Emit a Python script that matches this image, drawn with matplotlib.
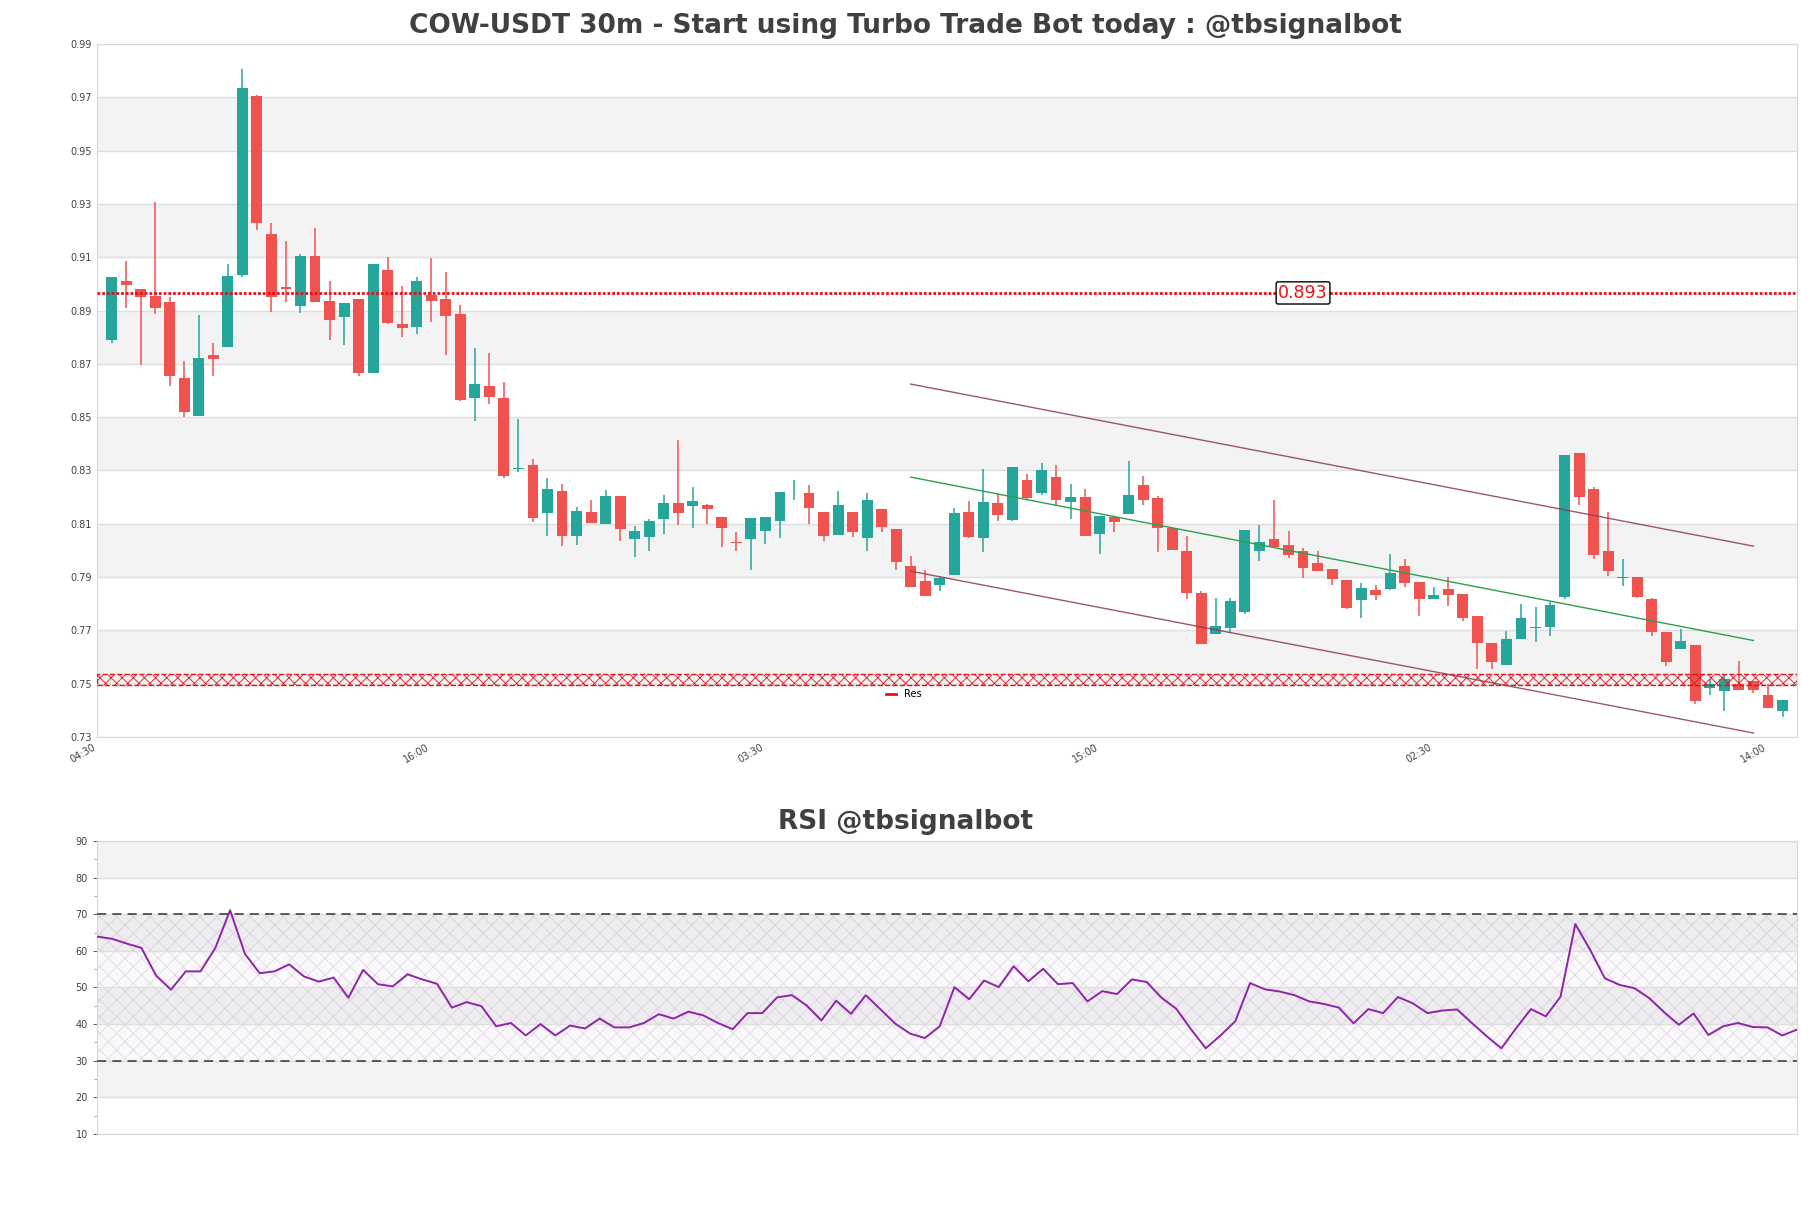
import numpy as np
import matplotlib
matplotlib.use("Agg")
import matplotlib.pyplot as plt

plt.rcParams["hatch.linewidth"] = 0.6

# candles (30m)
opens = [0.879, 0.9011, 0.8981, 0.8956, 0.8933, 0.8648, 0.8506, 0.8734, 0.8765, 0.9034,
         0.9705, 0.9187, 0.8989, 0.8917, 0.9105, 0.8936, 0.8874, 0.8944, 0.8664, 0.9052,
         0.885, 0.884, 0.8959, 0.8944, 0.8887, 0.857, 0.8616, 0.8571, 0.8304, 0.8321,
         0.8139, 0.8224, 0.8055, 0.8144, 0.8098, 0.8205, 0.8041, 0.8049, 0.8116, 0.8179,
         0.8165, 0.8171, 0.8126, 0.8031, 0.8041, 0.8071, 0.8109, 0.8229, 0.8216, 0.8145,
         0.8056, 0.8145, 0.8045, 0.8156, 0.8081, 0.7943, 0.7886, 0.7869, 0.7906, 0.8145,
         0.8045, 0.8179, 0.8113, 0.8265, 0.8216, 0.8276, 0.818, 0.8201, 0.806, 0.8125,
         0.8135, 0.8246, 0.8198, 0.8083, 0.7999, 0.784, 0.7685, 0.7708, 0.7768, 0.7996,
         0.8041, 0.802, 0.7996, 0.7954, 0.7931, 0.789, 0.7813, 0.7851, 0.7854, 0.7941,
         0.7881, 0.7816, 0.7855, 0.7838, 0.7755, 0.7654, 0.7569, 0.7666, 0.7709, 0.7711,
         0.7824, 0.8366, 0.8231, 0.7998, 0.7896, 0.79, 0.7819, 0.7695, 0.763, 0.7645,
         0.7484, 0.7471, 0.7499, 0.7511, 0.7459, 0.7398]
highs = [0.9026, 0.9086, 0.8981, 0.9307, 0.8949, 0.8711, 0.8884, 0.878, 0.9074, 0.9806,
         0.9709, 0.923, 0.9162, 0.9112, 0.921, 0.9011, 0.8929, 0.8944, 0.9075, 0.91,
         0.8992, 0.9026, 0.9098, 0.9045, 0.892, 0.8759, 0.8741, 0.8632, 0.8494, 0.8343,
         0.8273, 0.825, 0.8163, 0.819, 0.8228, 0.8205, 0.8091, 0.8119, 0.8209, 0.8415,
         0.8239, 0.8176, 0.8126, 0.807, 0.8123, 0.8126, 0.822, 0.8265, 0.8246, 0.8145,
         0.8224, 0.8145, 0.8216, 0.8156, 0.8081, 0.7978, 0.7928, 0.7903, 0.816, 0.8186,
         0.8306, 0.8211, 0.8314, 0.8288, 0.8329, 0.8321, 0.825, 0.8231, 0.8128, 0.8125,
         0.8336, 0.828, 0.8205, 0.8083, 0.8053, 0.7848, 0.7821, 0.7821, 0.8076, 0.8094,
         0.819, 0.8073, 0.8009, 0.7998, 0.7931, 0.789, 0.7878, 0.787, 0.7988, 0.7969,
         0.7881, 0.7863, 0.79, 0.7838, 0.7755, 0.7654, 0.7699, 0.78, 0.7789, 0.7808,
         0.8358, 0.8366, 0.8239, 0.8145, 0.7968, 0.79, 0.7823, 0.7695, 0.7705, 0.7645,
         0.7518, 0.7528, 0.7586, 0.7511, 0.7499, 0.744]
lows = [0.878, 0.8908, 0.8696, 0.8888, 0.8615, 0.8499, 0.8506, 0.8656, 0.8765, 0.9026,
        0.9202, 0.8895, 0.8932, 0.8892, 0.8932, 0.879, 0.8771, 0.8656, 0.8664, 0.8848,
        0.8802, 0.8812, 0.8858, 0.8734, 0.8559, 0.8484, 0.8551, 0.8271, 0.8294, 0.8105,
        0.8055, 0.8015, 0.8021, 0.8104, 0.8098, 0.8034, 0.7974, 0.7996, 0.806, 0.8094,
        0.8083, 0.8098, 0.8011, 0.7996, 0.7925, 0.8023, 0.8045, 0.8188, 0.8098, 0.8034,
        0.8056, 0.8049, 0.7996, 0.8068, 0.7925, 0.7861, 0.7828, 0.7846, 0.7906, 0.8045,
        0.7993, 0.8109, 0.8109, 0.8188, 0.8209, 0.8168, 0.8116, 0.8053, 0.7985, 0.8068,
        0.8135, 0.8169, 0.7993, 0.8, 0.7818, 0.7648, 0.7685, 0.769, 0.776, 0.7959,
        0.8011, 0.797, 0.7895, 0.7921, 0.7869, 0.7779, 0.7745, 0.7813, 0.7851, 0.7863,
        0.7753, 0.7816, 0.7793, 0.7734, 0.7556, 0.7556, 0.7569, 0.7666, 0.7655, 0.7678,
        0.7816, 0.8169, 0.7968, 0.7905, 0.7865, 0.7821, 0.7678, 0.7565, 0.763, 0.7425,
        0.7456, 0.7396, 0.7476, 0.7465, 0.7409, 0.7375]
closes = [0.9026, 0.8994, 0.8949, 0.8911, 0.8656, 0.8521, 0.8723, 0.872, 0.903, 0.9735,
          0.923, 0.8952, 0.8979, 0.9105, 0.8932, 0.8865, 0.8929, 0.8664, 0.9075, 0.8855,
          0.8833, 0.9011, 0.8937, 0.8881, 0.8566, 0.8625, 0.8574, 0.828, 0.8308, 0.812,
          0.8231, 0.8053, 0.8149, 0.8104, 0.8205, 0.8079, 0.8074, 0.8111, 0.8179, 0.8139,
          0.8186, 0.8154, 0.8083, 0.8029, 0.8123, 0.8126, 0.822, 0.8231, 0.8161, 0.8053,
          0.8171, 0.8068, 0.819, 0.8086, 0.7955, 0.7861, 0.7828, 0.7895, 0.8141, 0.8049,
          0.8183, 0.8131, 0.8314, 0.8198, 0.8303, 0.8188, 0.8201, 0.8053, 0.8128, 0.8105,
          0.8209, 0.8188, 0.8083, 0.8, 0.7839, 0.7648, 0.7715, 0.781, 0.8076, 0.8031,
          0.8011, 0.7981, 0.7933, 0.7921, 0.7891, 0.7785, 0.7859, 0.7831, 0.7916, 0.7876,
          0.7816, 0.7833, 0.7833, 0.7745, 0.7651, 0.758, 0.7669, 0.7748, 0.7711, 0.7796,
          0.8358, 0.8199, 0.7983, 0.7921, 0.7897, 0.7825, 0.7693, 0.7581, 0.766, 0.7434,
          0.7499, 0.7519, 0.7476, 0.7476, 0.7409, 0.744]

rsi = [63.9, 63.3, 62.0, 60.8, 53.2, 49.4, 54.4, 54.4, 60.8, 71.1,
       59.2, 53.9, 54.4, 56.3, 53.0, 51.6, 52.7, 47.2, 54.8, 50.9,
       50.3, 53.6, 52.2, 51.0, 44.5, 46.0, 44.9, 39.4, 40.3, 36.9,
       40.0, 36.9, 39.6, 38.8, 41.5, 39.1, 39.1, 40.3, 42.7, 41.5,
       43.4, 42.4, 40.3, 38.6, 43.0, 43.0, 47.3, 47.9, 45.1, 41.0,
       46.4, 42.8, 47.9, 44.0, 40.1, 37.4, 36.2, 39.4, 50.1, 46.8,
       51.9, 50.1, 55.8, 51.7, 55.1, 50.9, 51.2, 46.2, 49.0, 48.2,
       52.2, 51.5, 47.2, 44.2, 38.6, 33.4, 36.9, 40.8, 51.2, 49.5,
       48.9, 47.9, 46.2, 45.5, 44.5, 40.2, 44.1, 43.0, 47.4, 45.7,
       43.0, 43.7, 44.0, 40.3, 36.7, 33.4, 38.9, 44.1, 42.1, 47.5,
       67.3, 60.3, 52.5, 50.7, 49.8, 47.1, 43.3, 39.8, 42.9, 37.0,
       39.4, 40.3, 39.2, 39.1, 36.9, 38.5]

tick_pos = [-1, 22, 45, 68, 91, 114]
tick_labels = ["04:30", "16:00", "03:30", "15:00", "02:30", "14:00"]

level_price = 0.8966
level_text = "0.893"
level_text_x = 82
res_zone = [0.7496, 0.7537]

# regression channel: x range, upper / mid / lower price at start and end
chan_x = [55, 113]
chan_upper = [0.8624, 0.8016]
chan_mid = [0.8275, 0.7662]
chan_lower = [0.7922, 0.7315]

rsi_upper = 70
rsi_lower = 30

up_col = "#26a69a"
down_col = "#ef5350"
band_col = "#f3f3f3"
grid_col = "#dedede"
text_col = "#404040"

fig = plt.figure(figsize=(18.11, 12.08), dpi=100)
ax_left, ax_w = 0.0536, 0.9387
ax = fig.add_axes([ax_left, 0.3899, ax_w, 0.5737])
ax2 = fig.add_axes([ax_left, 0.0613, ax_w, 0.2425])
# titles are centred on the figure, not on the axes
title_x = (0.5 - ax_left) / ax_w

x = np.arange(len(opens))
o = np.array(opens)
h = np.array(highs)
l = np.array(lows)
c = np.array(closes)
cols = np.where(c >= o, up_col, down_col)

# price chart
yt = np.arange(0.73, 0.9901, 0.02)
for k in range(len(yt) - 1):
    if k % 2 == 1:
        ax.axhspan(yt[k], yt[k + 1], color=band_col, zorder=0, lw=0)
ax.vlines(x, l, h, colors=cols, lw=1.1, zorder=2)
body_bottom = np.minimum(o, c)
body_h = np.maximum(np.abs(c - o), 0.0003)
ax.bar(x, body_h, 0.75, bottom=body_bottom, color=cols, zorder=3, lw=0)

ax.axhline(level_price, color="#e8101a", ls=(0, (1, 0.7)), lw=2, zorder=4)
ax.text(level_text_x, level_price, level_text, color="#e8101a", fontsize=12.5,
        ha="center", va="center", zorder=5,
        bbox=dict(boxstyle="round,pad=0.12", fc="white", ec="black", lw=1))

ax.axhspan(res_zone[0], res_zone[1], fc="none", ec="#e8101a", hatch="xxx",
           ls="--", lw=1, zorder=4)
ax.plot([], [], color="#e8101a", lw=2, label="Res")

ax.plot(chan_x, chan_upper, color="#8b3a50", lw=1, alpha=0.85, zorder=4)
ax.plot(chan_x, chan_lower, color="#8b3a50", lw=1, alpha=0.85, zorder=4)
ax.plot(chan_x, chan_mid, color="#2e9e4e", lw=1, zorder=4)

ax.set_xlim(-1, len(opens))
ax.set_ylim(0.73, 0.99)
ax.set_yticks(yt)
ax.set_yticklabels(["%.2f" % v for v in yt])
ax.set_xticks(tick_pos)
ax.set_xticklabels(tick_labels, rotation=30, ha="right")
ax.grid(axis="y", color=grid_col, lw=1, zorder=1)
ax.set_axisbelow(True)
ax.tick_params(axis="both", labelsize=7, colors=text_col, length=0)
for s in ax.spines.values():
    s.set_color("#d8d8d8")
leg = ax.legend(loc="center left", bbox_to_anchor=(0.459, 0.062), frameon=False,
                fontsize=7, handlelength=1)
ax.set_title("COW-USDT 30m - Start using Turbo Trade Bot today : @tbsignalbot",
             fontsize=19, fontweight="bold", color=text_col, pad=8, x=title_x)

# rsi chart
xr = np.arange(len(rsi))
for lo in [20, 40, 60, 80]:
    ax2.axhspan(lo, lo + 10, color=band_col, zorder=0, lw=0)
ax2.fill_between([0, len(rsi) - 1], rsi_lower, rsi_upper, fc=(0.55, 0.2, 0.6, 0.03),
                 ec=(0.6, 0.6, 0.65, 0.3), hatch="xx", lw=0, zorder=1)
ax2.axhline(rsi_upper, color="#333333", ls=(0, (6, 4)), lw=1.1, zorder=3)
ax2.axhline(rsi_lower, color="#333333", ls=(0, (6, 4)), lw=1.1, zorder=3)
ax2.plot(xr, rsi, color="#8e24aa", lw=1.4, zorder=4)
ax2.set_xlim(0, len(rsi) - 1)
ax2.set_ylim(10, 90)
ax2.set_yticks(np.arange(10, 91, 10))
ax2.set_yticks(np.arange(15, 90, 10), minor=True)
ax2.set_xticks([])
ax2.grid(axis="y", color=grid_col, lw=1, zorder=1)
ax2.tick_params(axis="y", labelsize=7, colors=text_col, length=3, width=0.6)
ax2.tick_params(axis="y", which="minor", length=2, width=0.6, colors="#999999")
for s in ax2.spines.values():
    s.set_color("#d8d8d8")
ax2.set_title("RSI @tbsignalbot", fontsize=19, fontweight="bold", color=text_col,
              pad=9, x=title_x)

plt.savefig("out.png", dpi=100)
